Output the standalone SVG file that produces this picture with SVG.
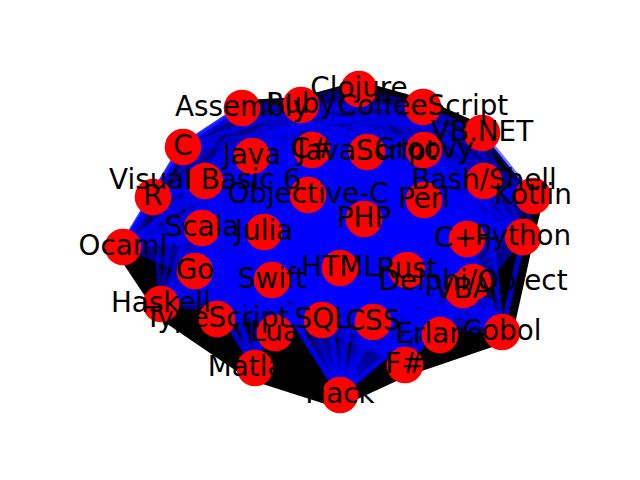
<svg xmlns="http://www.w3.org/2000/svg" width="640" height="480" viewBox="0 0 640 480">
<style>
.bg{fill:#fff}
.hull{fill:#000;stroke:none}
.rim{fill:none;stroke:#000;stroke-linejoin:round;stroke-linecap:round}
.band{fill:none;stroke:#00f;stroke-width:8;stroke-opacity:0.8;stroke-linejoin:round;stroke-linecap:round}
.e{fill:none;stroke:#00f;stroke-width:5;stroke-opacity:0.55;stroke-linecap:round;stroke-linejoin:round}
.n circle{fill:#f00}
.lbl text{font-family:"DejaVu Sans","Liberation Sans",sans-serif;font-size:27.8px;text-anchor:middle;fill:#000}
</style>
<rect class="bg" x="0" y="0" width="640" height="480"/>
<g id="connectors">
<polygon class="hull" points="359,89 423,107 482,133 533,196 523,237 502,332 405,365 340,395 255,368 161,304 123,247 153,197 183,147 242,108"/>
<polyline class="rim" stroke-width="18" points="123,247 161,304"/>
<polyline class="rim" stroke-width="26" points="161,304 217,319 255,368 161,304 255,368 340,395"/>
<polyline class="rim" stroke-width="22" points="340,395 405,365 502,332 523,237 533,196"/>
<polyline class="rim" stroke-width="16" points="533,196 484,181 482,133 423,107 359,89 301,105 242,108"/>
<polyline class="band" points="123,247 153,197 183,147 242,108"/>
<path class="e" d="M359 89L301 105ZL242 108ZL423 107ZL482 133ZL183 147ZL252 156ZL312 150ZL367 152ZL424 150ZL205 181ZL153 197ZL308 195ZL484 181ZL533 196ZL424 200ZL364 219ZL202 228ZL264 232ZL123 247ZL467 239ZL523 237ZL195 271ZL340 268ZL407 270ZL272 280ZL473 282ZL463 290ZL161 304ZL217 319ZL275 333ZL322 320ZL373 322ZL440 335ZL502 332ZL405 365ZL340 395Z"/>
<path class="e" d="M301 105L242 108ZL423 107ZL482 133ZL183 147ZL252 156ZL312 150ZL367 152ZL424 150ZL205 181ZL153 197ZL308 195ZL484 181ZL533 196ZL424 200ZL364 219ZL202 228ZL264 232ZL123 247ZL467 239ZL523 237ZL195 271ZL340 268ZL407 270ZL272 280ZL473 282ZL463 290ZL161 304ZL217 319ZL275 333ZL322 320ZL373 322ZL440 335ZL502 332ZL255 368ZL405 365ZL340 395Z"/>
<path class="e" d="M242 108L423 107ZL482 133ZL183 147ZL252 156ZL312 150ZL367 152ZL424 150ZL205 181ZL153 197ZL308 195ZL484 181ZL533 196ZL424 200ZL364 219ZL202 228ZL264 232ZL123 247ZL467 239ZL523 237ZL195 271ZL340 268ZL407 270ZL272 280ZL473 282ZL463 290ZL161 304ZL217 319ZL275 333ZL322 320ZL373 322ZL440 335ZL502 332ZL255 368ZL405 365ZL340 395Z"/>
<path class="e" d="M423 107L482 133ZL183 147ZL252 156ZL312 150ZL367 152ZL424 150ZL205 181ZL153 197ZL308 195ZL484 181ZL533 196ZL424 200ZL364 219ZL202 228ZL264 232ZL123 247ZL467 239ZL523 237ZL195 271ZL340 268ZL407 270ZL272 280ZL473 282ZL463 290ZL161 304ZL217 319ZL275 333ZL322 320ZL373 322ZL440 335ZL502 332ZL405 365ZL340 395Z"/>
<path class="e" d="M482 133L183 147ZL252 156ZL312 150ZL367 152ZL424 150ZL205 181ZL153 197ZL308 195ZL484 181ZL533 196ZL424 200ZL364 219ZL202 228ZL264 232ZL123 247ZL467 239ZL523 237ZL195 271ZL340 268ZL407 270ZL272 280ZL473 282ZL463 290ZL161 304ZL217 319ZL275 333ZL322 320ZL373 322ZL440 335ZL502 332ZL405 365ZL340 395Z"/>
<path class="e" d="M183 147L252 156ZL312 150ZL367 152ZL424 150ZL205 181ZL153 197ZL308 195ZL484 181ZL533 196ZL424 200ZL364 219ZL202 228ZL264 232ZL123 247ZL467 239ZL523 237ZL195 271ZL340 268ZL407 270ZL272 280ZL473 282ZL463 290ZL161 304ZL217 319ZL275 333ZL322 320ZL373 322ZL440 335ZL502 332ZL255 368ZL405 365ZL340 395Z"/>
<path class="e" d="M252 156L312 150ZL367 152ZL424 150ZL205 181ZL153 197ZL308 195ZL484 181ZL533 196ZL424 200ZL364 219ZL202 228ZL264 232ZL123 247ZL467 239ZL523 237ZL195 271ZL340 268ZL407 270ZL272 280ZL473 282ZL463 290ZL161 304ZL217 319ZL275 333ZL322 320ZL373 322ZL440 335ZL502 332ZL255 368ZL405 365ZL340 395Z"/>
<path class="e" d="M312 150L367 152ZL424 150ZL205 181ZL153 197ZL308 195ZL484 181ZL533 196ZL424 200ZL364 219ZL202 228ZL264 232ZL123 247ZL467 239ZL523 237ZL195 271ZL340 268ZL407 270ZL272 280ZL473 282ZL463 290ZL161 304ZL217 319ZL275 333ZL322 320ZL373 322ZL440 335ZL502 332ZL255 368ZL405 365ZL340 395Z"/>
<path class="e" d="M367 152L424 150ZL205 181ZL153 197ZL308 195ZL484 181ZL533 196ZL424 200ZL364 219ZL202 228ZL264 232ZL123 247ZL467 239ZL523 237ZL195 271ZL340 268ZL407 270ZL272 280ZL473 282ZL463 290ZL161 304ZL217 319ZL275 333ZL322 320ZL373 322ZL440 335ZL502 332ZL405 365ZL340 395Z"/>
<path class="e" d="M424 150L205 181ZL153 197ZL308 195ZL484 181ZL533 196ZL424 200ZL364 219ZL202 228ZL264 232ZL123 247ZL467 239ZL523 237ZL195 271ZL340 268ZL407 270ZL272 280ZL473 282ZL463 290ZL161 304ZL217 319ZL275 333ZL322 320ZL373 322ZL440 335ZL502 332ZL405 365ZL340 395Z"/>
<path class="e" d="M205 181L153 197ZL308 195ZL484 181ZL533 196ZL424 200ZL364 219ZL202 228ZL264 232ZL123 247ZL467 239ZL523 237ZL195 271ZL340 268ZL407 270ZL272 280ZL473 282ZL463 290ZL161 304ZL217 319ZL275 333ZL322 320ZL373 322ZL440 335ZL502 332ZL255 368ZL405 365ZL340 395Z"/>
<path class="e" d="M153 197L308 195ZL484 181ZL533 196ZL424 200ZL364 219ZL202 228ZL264 232ZL123 247ZL467 239ZL523 237ZL195 271ZL340 268ZL407 270ZL272 280ZL473 282ZL463 290ZL161 304ZL217 319ZL275 333ZL322 320ZL373 322ZL440 335ZL502 332ZL255 368ZL405 365Z"/>
<path class="e" d="M308 195L484 181ZL533 196ZL424 200ZL364 219ZL202 228ZL264 232ZL123 247ZL467 239ZL523 237ZL195 271ZL340 268ZL407 270ZL272 280ZL473 282ZL463 290ZL161 304ZL217 319ZL275 333ZL322 320ZL373 322ZL440 335ZL502 332ZL255 368ZL405 365ZL340 395Z"/>
<path class="e" d="M484 181L533 196ZL424 200ZL364 219ZL202 228ZL264 232ZL123 247ZL467 239ZL523 237ZL195 271ZL340 268ZL407 270ZL272 280ZL473 282ZL463 290ZL161 304ZL217 319ZL275 333ZL322 320ZL373 322ZL440 335ZL502 332ZL405 365ZL340 395Z"/>
<path class="e" d="M533 196L424 200ZL364 219ZL202 228ZL264 232ZL123 247ZL467 239ZL523 237ZL195 271ZL340 268ZL407 270ZL272 280ZL473 282ZL463 290ZL161 304ZL217 319ZL275 333ZL322 320ZL373 322ZL440 335ZL502 332ZL405 365ZL340 395Z"/>
<path class="e" d="M424 200L364 219ZL202 228ZL264 232ZL123 247ZL467 239ZL523 237ZL195 271ZL340 268ZL407 270ZL272 280ZL473 282ZL463 290ZL161 304ZL217 319ZL275 333ZL322 320ZL373 322ZL440 335ZL502 332ZL405 365ZL340 395Z"/>
<path class="e" d="M364 219L202 228ZL264 232ZL123 247ZL467 239ZL523 237ZL195 271ZL340 268ZL407 270ZL272 280ZL473 282ZL463 290ZL161 304ZL217 319ZL275 333ZL322 320ZL373 322ZL440 335ZL502 332ZL405 365ZL340 395Z"/>
<path class="e" d="M202 228L264 232ZL123 247ZL467 239ZL523 237ZL195 271ZL340 268ZL407 270ZL272 280ZL473 282ZL463 290ZL161 304ZL217 319ZL275 333ZL322 320ZL373 322ZL440 335ZL502 332ZL255 368ZL405 365Z"/>
<path class="e" d="M264 232L123 247ZL467 239ZL523 237ZL195 271ZL340 268ZL407 270ZL272 280ZL473 282ZL463 290ZL161 304ZL217 319ZL275 333ZL322 320ZL373 322ZL440 335ZL502 332ZL255 368ZL405 365ZL340 395Z"/>
<path class="e" d="M123 247L467 239ZL523 237ZL195 271ZL340 268ZL407 270ZL272 280ZL473 282ZL463 290ZL322 320ZL373 322Z"/>
<path class="e" d="M467 239L523 237ZL195 271ZL340 268ZL407 270ZL272 280ZL473 282ZL463 290ZL161 304ZL217 319ZL275 333ZL322 320ZL373 322ZL440 335ZL502 332ZL405 365ZL340 395Z"/>
<path class="e" d="M523 237L195 271ZL340 268ZL407 270ZL272 280ZL473 282ZL463 290ZL161 304ZL217 319ZL275 333ZL322 320ZL373 322ZL440 335ZL502 332ZL405 365ZL340 395Z"/>
<path class="e" d="M195 271L340 268ZL407 270ZL272 280ZL473 282ZL463 290ZL161 304ZL217 319ZL275 333ZL322 320ZL373 322ZL440 335ZL502 332ZL255 368ZL405 365Z"/>
<path class="e" d="M340 268L407 270ZL272 280ZL473 282ZL463 290ZL161 304ZL217 319ZL275 333ZL322 320ZL373 322ZL440 335ZL502 332ZL405 365ZL340 395Z"/>
<path class="e" d="M407 270L272 280ZL473 282ZL463 290ZL161 304ZL217 319ZL275 333ZL322 320ZL373 322ZL440 335ZL502 332ZL405 365ZL340 395Z"/>
<path class="e" d="M272 280L473 282ZL463 290ZL161 304ZL217 319ZL275 333ZL322 320ZL373 322ZL440 335ZL502 332ZL255 368ZL405 365ZL340 395Z"/>
<path class="e" d="M473 282L463 290ZL161 304ZL217 319ZL275 333ZL322 320ZL373 322ZL440 335ZL502 332ZL405 365ZL340 395Z"/>
<path class="e" d="M463 290L161 304ZL217 319ZL275 333ZL322 320ZL373 322ZL440 335ZL502 332ZL405 365ZL340 395Z"/>
<path class="e" d="M161 304L322 320ZL373 322Z"/>
<path class="e" d="M217 319L322 320ZL373 322Z"/>
<path class="e" d="M275 333L322 320ZL373 322Z"/>
<path class="e" d="M322 320L373 322ZL440 335ZL502 332ZL405 365ZL340 395Z"/>
<path class="e" d="M373 322L440 335ZL502 332ZL405 365ZL340 395Z"/>
</g>
<g id="nodes" class="n">
<g id="n-clojure"><circle cx="359" cy="89" r="18.3"/></g>
<g id="n-ruby"><circle cx="301" cy="105" r="18.3"/></g>
<g id="n-assembly"><circle cx="242" cy="108" r="18.3"/></g>
<g id="n-coffeescript"><circle cx="423" cy="107" r="18.3"/></g>
<g id="n-vbnet"><circle cx="482" cy="133" r="18.3"/></g>
<g id="n-c"><circle cx="183" cy="147" r="18.3"/></g>
<g id="n-java"><circle cx="252" cy="156" r="18.3"/></g>
<g id="n-csharp"><circle cx="312" cy="150" r="18.3"/></g>
<g id="n-javascript"><circle cx="367" cy="152" r="18.3"/></g>
<g id="n-groovy"><circle cx="424" cy="150" r="18.3"/></g>
<g id="n-vb6"><circle cx="205" cy="181" r="18.3"/></g>
<g id="n-r"><circle cx="153" cy="197" r="18.3"/></g>
<g id="n-objc"><circle cx="308" cy="195" r="18.3"/></g>
<g id="n-bash"><circle cx="484" cy="181" r="18.3"/></g>
<g id="n-kotlin"><circle cx="533" cy="196" r="18.3"/></g>
<g id="n-perl"><circle cx="424" cy="200" r="18.3"/></g>
<g id="n-php"><circle cx="364" cy="219" r="18.3"/></g>
<g id="n-scala"><circle cx="202" cy="228" r="18.3"/></g>
<g id="n-julia"><circle cx="264" cy="232" r="18.3"/></g>
<g id="n-ocaml"><circle cx="123" cy="247" r="18.3"/></g>
<g id="n-cpp"><circle cx="467" cy="239" r="18.3"/></g>
<g id="n-python"><circle cx="523" cy="237" r="18.3"/></g>
<g id="n-go"><circle cx="195" cy="271" r="18.3"/></g>
<g id="n-html"><circle cx="340" cy="268" r="18.3"/></g>
<g id="n-rust"><circle cx="407" cy="270" r="18.3"/></g>
<g id="n-swift"><circle cx="272" cy="280" r="18.3"/></g>
<g id="n-delphi"><circle cx="473" cy="282" r="18.3"/></g>
<g id="n-vba"><circle cx="463" cy="290" r="18.3"/></g>
<g id="n-haskell"><circle cx="161" cy="304" r="18.3"/></g>
<g id="n-typescript"><circle cx="217" cy="319" r="18.3"/></g>
<g id="n-lua"><circle cx="275" cy="333" r="18.3"/></g>
<g id="n-sql"><circle cx="322" cy="320" r="18.3"/></g>
<g id="n-css"><circle cx="373" cy="322" r="18.3"/></g>
<g id="n-erlang"><circle cx="440" cy="335" r="18.3"/></g>
<g id="n-cobol"><circle cx="502" cy="332" r="18.3"/></g>
<g id="n-matlab"><circle cx="255" cy="368" r="18.3"/></g>
<g id="n-fsharp"><circle cx="405" cy="365" r="18.3"/></g>
<g id="n-hack"><circle cx="340" cy="395" r="18.3"/></g>
</g>
<g id="labels" class="lbl">
<text id="l-clojure" x="359" y="97">Clojure</text>
<text id="l-ruby" x="301" y="113">Ruby</text>
<text id="l-assembly" x="242" y="116">Assembly</text>
<text id="l-coffeescript" x="423" y="115">CoffeeScript</text>
<text id="l-vbnet" x="482" y="141">VB.NET</text>
<text id="l-c" x="183" y="155">C</text>
<text id="l-java" x="252" y="164">Java</text>
<text id="l-csharp" x="312" y="158">C#</text>
<text id="l-javascript" x="367" y="160">JavaScript</text>
<text id="l-groovy" x="424" y="158">Groovy</text>
<text id="l-vb6" x="205" y="189">Visual Basic 6</text>
<text id="l-r" x="153" y="205">R</text>
<text id="l-objc" x="308" y="203">Objective-C</text>
<text id="l-bash" x="484" y="189">Bash/Shell</text>
<text id="l-kotlin" x="533" y="204">Kotlin</text>
<text id="l-perl" x="424" y="208">Perl</text>
<text id="l-php" x="364" y="227">PHP</text>
<text id="l-scala" x="202" y="236">Scala</text>
<text id="l-julia" x="264" y="240">Julia</text>
<text id="l-ocaml" x="123" y="255">Ocaml</text>
<text id="l-cpp" x="467" y="247">C++</text>
<text id="l-python" x="523" y="245">Python</text>
<text id="l-go" x="195" y="279">Go</text>
<text id="l-html" x="340" y="276">HTML</text>
<text id="l-rust" x="407" y="278">Rust</text>
<text id="l-swift" x="272" y="288">Swift</text>
<text id="l-delphi" x="473" y="290">Delphi/Object</text>
<text id="l-vba" x="463" y="298">VBA</text>
<text id="l-haskell" x="161" y="312">Haskell</text>
<text id="l-typescript" x="217" y="327">TypeScript</text>
<text id="l-lua" x="275" y="341">Lua</text>
<text id="l-sql" x="322" y="328">SQL</text>
<text id="l-css" x="373" y="330">CSS</text>
<text id="l-erlang" x="440" y="343">Erlang</text>
<text id="l-cobol" x="502" y="340">Cobol</text>
<text id="l-matlab" x="255" y="376">Matlab</text>
<text id="l-fsharp" x="405" y="373">F#</text>
<text id="l-hack" x="340" y="403">Hack</text>
</g>
</svg>
